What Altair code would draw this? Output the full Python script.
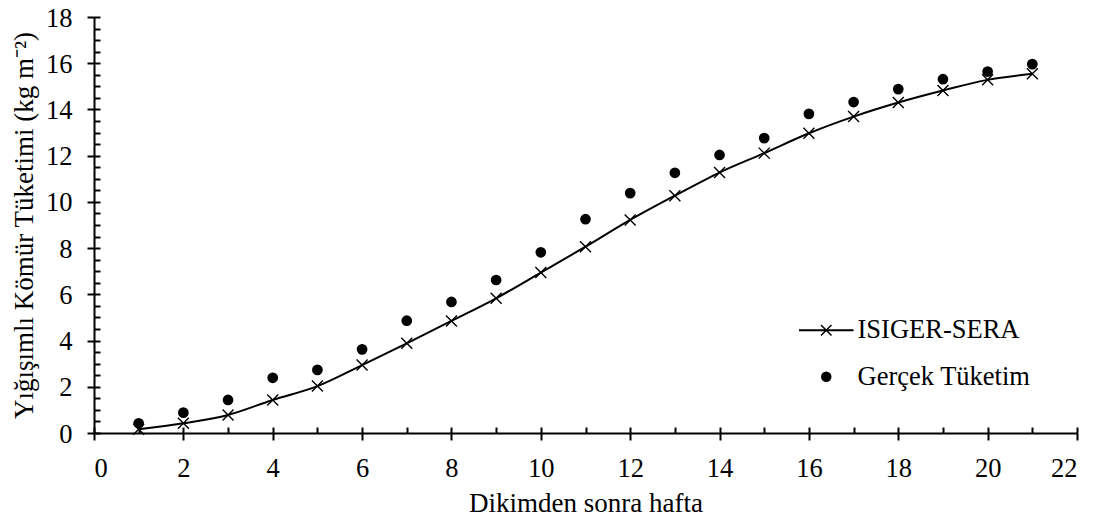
import altair as alt
import pandas as pd

weeks = list(range(1, 22))
isiger_sera = [0.16, 0.42, 0.78, 1.43, 2.03, 2.94, 3.88, 4.85, 5.83, 6.94, 8.06,
               9.22, 10.27, 11.27, 12.11, 12.97, 13.69, 14.30, 14.82, 15.28, 15.54]
gercek = [0.42, 0.88, 1.43, 2.39, 2.73, 3.62, 4.86, 5.67, 6.62, 7.82, 9.25,
          10.38, 11.26, 12.03, 12.76, 13.81, 14.32, 14.88, 15.31, 15.64, 15.96]
series_names = ["ISIGER-SERA", "Gerçek Tüketim"]
x_major = list(range(0, 23, 2))
x_minor = list(range(0, 23, 1))
y_major = list(range(0, 19, 2))
y_minor = [i * 0.5 for i in range(0, 37)]

FONT = "Liberation Serif"
W, H = 983, 416

df_model = pd.DataFrame({"week": weeks, "val": isiger_sera})
df_obs = pd.DataFrame({"week": weeks, "val": gercek})
df_long = pd.concat([
    df_model.assign(series=series_names[0]),
    df_obs.assign(series=series_names[1]),
])

xs = alt.Scale(domain=[0, 22], nice=False, zero=False)
ys = alt.Scale(domain=[0, 18], nice=False, zero=False)

x_main = alt.Axis(values=x_major, orient="bottom", tickSize=7, tickWidth=2, tickColor="black",
                  domainColor="black", domainWidth=2, labelPadding=15, labelFont=FONT,
                  labelFontSize=26.5, labelColor="black", grid=False,
                  title="Dikimden sonra hafta", titleFont=FONT, titleFontSize=27,
                  titleFontWeight="normal", titleColor="black", titleBaseline="alphabetic",
                  titleY=78)
y_main = alt.Axis(values=y_major, orient="left", tickSize=7, tickWidth=2, tickColor="black",
                  domainColor="black", domainWidth=2, labelPadding=15, labelFont=FONT,
                  labelFontSize=26.5, labelColor="black", grid=False, labelOffset=1,
                  title="Yığışımlı Kömür Tüketimi (kg m⁻²)", titleFont=FONT, titleFontSize=27,
                  titleFontWeight="normal", titleColor="black", titleBaseline="alphabetic",
                  titleX=-62)
x_inner = alt.Axis(values=x_minor, orient="top", offset=-H, tickSize=6, tickWidth=2,
                   tickColor="black", domain=False, labels=False, grid=False, title=None)
y_inner = alt.Axis(values=y_minor, orient="right", offset=-W, tickSize=6, tickWidth=2,
                   tickColor="black", domain=False, labels=False, grid=False, title=None)

xpath = "M-1,-1L1,1M-1,1L1,-1"
# filled outline of a horizontal line with an X on it (for the legend)
legend_path = ("M-5.2,-0.2H5.2V0.2H-5.2Z"
               "M-0.9,-1.1L1.1,0.9L0.9,1.1L-1.1,-0.9Z"
               "M-1.1,0.9L0.9,-1.1L1.1,-0.9L-0.9,1.1Z")

line = alt.Chart(df_model).mark_line(interpolate="monotone", color="black", strokeWidth=2).encode(
    x=alt.X("week:Q", scale=xs, axis=x_main),
    y=alt.Y("val:Q", scale=ys, axis=y_main),
)
crosses = alt.Chart(df_model).mark_point(shape=xpath, size=121, filled=False, color="black",
                                         strokeWidth=1.4, opacity=1).encode(
    x=alt.X("week:Q", scale=xs, axis=x_inner),
    y=alt.Y("val:Q", scale=ys, axis=y_inner),
)
circles = alt.Chart(df_obs).mark_circle(size=115, color="black", opacity=1).encode(
    x=alt.X("week:Q", scale=xs, axis=None),
    y=alt.Y("val:Q", scale=ys, axis=None),
)
legend_layer = alt.Chart(df_long).transform_filter("false").mark_point(
    filled=True, color="black", opacity=1
).encode(
    shape=alt.Shape("series:N", scale=alt.Scale(domain=series_names, range=[legend_path, "circle"]),
                    legend=alt.Legend(title=None, orient="none", legendX=719, legendY=300,
                                      labelFont=FONT, labelFontSize=26.5, labelColor="black",
                                      labelOffset=18, symbolSize=110, rowPadding=19.5, padding=0,
                                      symbolFillColor="black", labelLimit=0)),
)

chart = alt.layer(line, crosses, circles, legend_layer).resolve_axis(
    x="independent", y="independent"
).properties(
    width=W, height=H,
    autosize=alt.AutoSizeParams(type="none"),
    padding={"left": 86, "top": 9, "right": 8, "bottom": 80},
    background="white",
).configure_view(stroke=None)

chart.save("out.html", embed_options={"renderer": "svg", "actions": False})
